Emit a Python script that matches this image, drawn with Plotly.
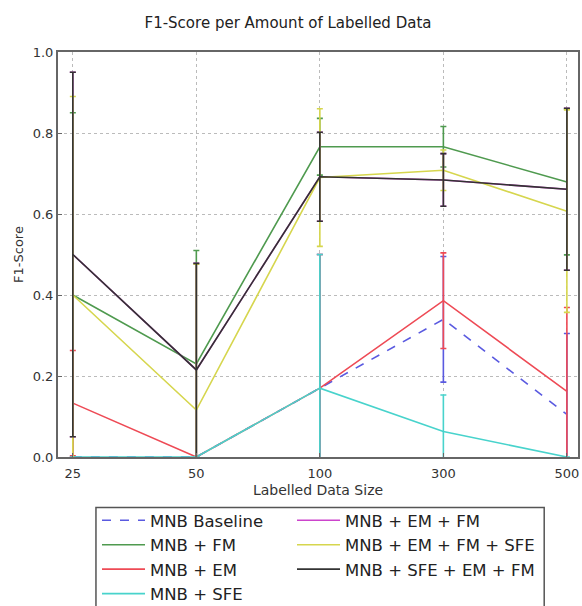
import plotly.graph_objects as go

sizes = ["25", "50", "100", "300", "500"]

baseline = [0.0, 0.0, 0.17, 0.34, 0.105]
baseline_err = [0.0, 0.0, 0.33, 0.155, 0.20]
fm = [0.40, 0.23, 0.766, 0.766, 0.679]
fm_err = [0.45, 0.28, 0.07, 0.05, 0.18]
em = [0.133, 0.0, 0.17, 0.386, 0.162]
em_err = [0.13, 0.0, 0.33, 0.118, 0.207]
sfe = [0.0, 0.0, 0.17, 0.063, 0.0]
sfe_err = [0.0, 0.0, 0.33, 0.09, 0.0]
em_fm = [0.50, 0.215, 0.692, 0.684, 0.661]
em_fm_err = [0.45, 0.263, 0.11, 0.065, 0.20]
em_fm_sfe = [0.40, 0.116, 0.69, 0.708, 0.607]
em_fm_sfe_err = [0.49, 0.36, 0.17, 0.05, 0.25]
sfe_em_fm = [0.50, 0.215, 0.692, 0.684, 0.661]
sfe_em_fm_err = [0.45, 0.263, 0.11, 0.065, 0.20]

names = ["MNB Baseline", "MNB + FM", "MNB + EM", "MNB + SFE",
         "MNB + EM + FM", "MNB + EM + FM + SFE", "MNB + SFE + EM + FM"]

series = [
    (names[0], baseline, baseline_err, "#5a5ae0", "dash", "legend"),
    (names[1], fm, fm_err, "#4f9a4f", "solid", "legend"),
    (names[2], em, em_err, "#ee4a55", "solid", "legend"),
    (names[3], sfe, sfe_err, "#48d3cc", "solid", "legend"),
    (names[4], em_fm, em_fm_err, "#cc44cc", "solid", "legend2"),
    (names[5], em_fm_sfe, em_fm_sfe_err, "#d6d64e", "solid", "legend2"),
    (names[6], sfe_em_fm, sfe_em_fm_err, "#333333", "solid", "legend2"),
]

fig = go.Figure()
for name, vals, errs, color, dash, leg in series:
    fig.add_trace(go.Scatter(
        x=sizes, y=vals, name=name, mode="lines",
        line=dict(color=color, width=1.6, dash=dash),
        error_y=dict(type="data", array=errs, visible=True,
                     color=color, thickness=1.6, width=3),
        legend=leg, legendgroup=name,
    ))

# plot area: x 58..578 px, y 52..457 px
leg_y = (457 - 503) / 405
legend_font = dict(size=16.5, color="#222222", family="DejaVu Sans")
fig.update_layout(
    width=582, height=606,
    margin=dict(l=58, r=4, t=52, b=149, autoexpand=False),
    paper_bgcolor="white", plot_bgcolor="white",
    font=dict(family="DejaVu Sans", size=13, color="#333333"),
    title=dict(text="F1-Score per Amount of Labelled Data",
               x=288 / 582, xanchor="center", y=0.962, yanchor="middle",
               xref="container",
               font=dict(size=15, color="#222222")),
    showlegend=True,
    legend=dict(x=(97 - 58) / 520, y=leg_y, xanchor="left", yanchor="top",
                font=legend_font, bgcolor="rgba(0,0,0,0)", itemwidth=43,
                tracegroupgap=0, traceorder="grouped"),
    legend2=dict(x=(292 - 58) / 520, y=leg_y, xanchor="left", yanchor="top",
                 font=legend_font, bgcolor="rgba(0,0,0,0)", itemwidth=43,
                 tracegroupgap=0, traceorder="grouped"),
    shapes=[dict(type="rect", xref="paper", yref="paper",
                 x0=0.073, x1=0.935, y0=-0.40, y1=-0.1245,
                 line=dict(color="#555555", width=1.5))],
)

fig.update_xaxes(
    type="category", range=[-0.12, 4.09],
    showgrid=True, gridcolor="#bbbbbb", griddash="dot", gridwidth=1,
    showline=True, mirror=True, linecolor="#666666", linewidth=2,
    ticks="inside", ticklen=4, tickcolor="#666666", ticklabelstandoff=3,
    title=dict(text="Labelled Data Size", font=dict(size=14), standoff=6),
    tickfont=dict(size=13), zeroline=False,
)
fig.update_yaxes(
    range=[0, 1.0], tickvals=[0, 0.2, 0.4, 0.6, 0.8, 1.0],
    ticktext=["0.0", "0.2", "0.4", "0.6", "0.8", "1.0"],
    showgrid=True, gridcolor="#bbbbbb", griddash="dot", gridwidth=1,
    showline=True, mirror=True, linecolor="#666666", linewidth=2,
    ticks="inside", ticklen=4, tickcolor="#666666",
    title=dict(text="F1-Score", font=dict(size=13), standoff=6),
    tickfont=dict(size=13), zeroline=False,
)

fig.write_html("out.html")
